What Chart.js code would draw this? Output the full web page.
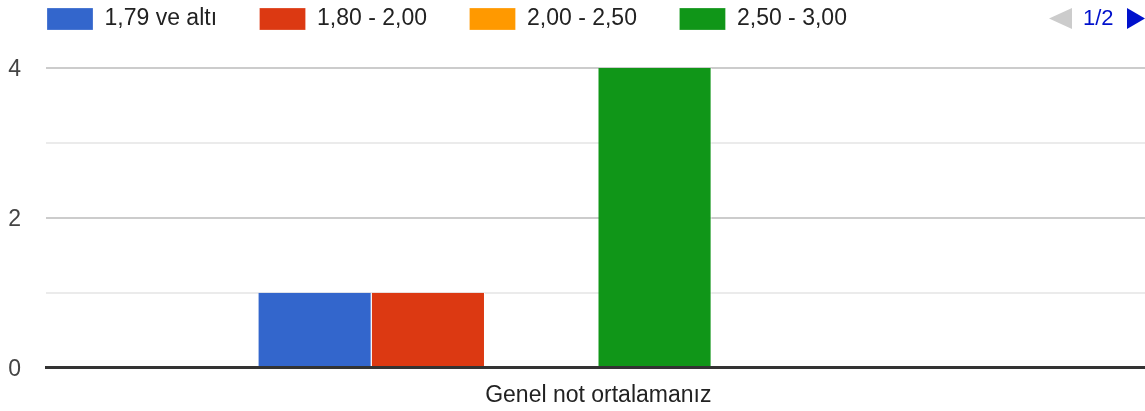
<!DOCTYPE html>
<html>
<head>
<meta charset="utf-8">
<script src="https://cdn.jsdelivr.net/npm/chart.js@4"></script>
<style>
  html, body { margin: 0; padding: 0; background: #fff; }
  #wrap { width: 1145px; height: 411px; position: relative; }
</style>
</head>
<body>
<div id="wrap"><canvas id="chart"></canvas></div>
<script>
const categories = ['Genel not ortalamanız'];
const seriesNames = ['1,79 ve altı', '1,80 - 2,00', '2,00 - 2,50', '2,50 - 3,00', '3,00 - 3,50', '3,50 - 4,00'];
const seriesValues = [[1], [1], [0], [4], [0], [0]];
const seriesColors = ['#3366cc', '#dc3912', '#ff9900', '#109618', '#990099', '#0099c6'];
const yTicks = [0, 2, 4];
const legendPage = '1/2';

const FONT = "Arial, 'Liberation Sans', sans-serif";

// legend sits higher and a bit left; plot runs a few px past the right edge
const layoutTweak = {
    id: 'layoutTweak',
    afterLayout(chart) {
        const lg = chart.legend;
        lg.top -= 27.5; lg.bottom -= 27.5;
        lg.left -= 3.5; lg.right -= 3.5;
        const x = chart.scales.x;
        x.right += 5.6; x.width += 5.6;
        x.configure();
    }
};

// page arrows "◀ 1/2 ▶" at the right of the legend
const pager = {
    id: 'pager',
    afterDraw(chart) {
        const c = chart.ctx;
        c.save();
        c.fillStyle = '#cccccc';
        c.beginPath();
        c.moveTo(1049, 18.5); c.lineTo(1072, 8); c.lineTo(1072, 29); c.closePath();
        c.fill();
        c.fillStyle = '#0011cc';
        c.font = '22px ' + FONT;
        c.textBaseline = 'middle';
        c.fillText(legendPage, 1083, 19);
        c.beginPath();
        c.moveTo(1127, 8); c.lineTo(1145, 18.5); c.lineTo(1127, 29); c.closePath();
        c.fill();
        c.restore();
    }
};

new Chart(document.getElementById('chart').getContext('2d'), {
    type: 'bar',
    data: {
        labels: categories,
        datasets: seriesNames.map((name, i) => ({
            label: name,
            data: seriesValues[i],
            backgroundColor: seriesColors[i],
            borderColor: '#ffffff',
            borderWidth: { left: 0, right: 1, top: 0, bottom: 0 },
            borderSkipped: false,
            categoryPercentage: 0.6155,
            barPercentage: 1
        }))
    },
    options: {
        responsive: true,
        maintainAspectRatio: false,
        animation: false,
        layout: { padding: { left: 8, right: 0, top: -7.5, bottom: 2 } },
        plugins: {
            legend: {
                position: 'top',
                align: 'start',
                labels: {
                    boxWidth: 46,
                    boxHeight: 22,
                    padding: 42.5,
                    color: '#222222',
                    font: { family: FONT, size: 23 },
                    filter: item => item.datasetIndex < 4
                }
            },
            tooltip: { enabled: false }
        },
        scales: {
            x: {
                grid: { display: false, drawTicks: false },
                border: { display: true, color: '#333333', width: 3 },
                ticks: { color: '#222222', padding: 14, font: { family: FONT, size: 23 } },
                afterFit: s => { s.height = 41.5; }
            },
            y: {
                min: 0,
                max: 4,
                border: { display: false },
                grid: {
                    drawTicks: false,
                    lineWidth: ctx => ctx.tick && ctx.tick.value === 0 ? 3 : 2,
                    color: ctx => {
                        const v = ctx.tick ? ctx.tick.value : 1;
                        if (v === 0) return '#333333';
                        return yTicks.includes(v) ? '#cccccc' : '#ebebeb';
                    }
                },
                ticks: {
                    stepSize: 1,
                    padding: 25,
                    labelOffset: 2,
                    color: '#444444',
                    font: { family: FONT, size: 23 },
                    callback: v => yTicks.includes(v) ? String(v) : ''
                },
                afterFit: s => { s.width = 38; }
            }
        }
    },
    plugins: [layoutTweak, pager]
});
</script>
</body>
</html>
